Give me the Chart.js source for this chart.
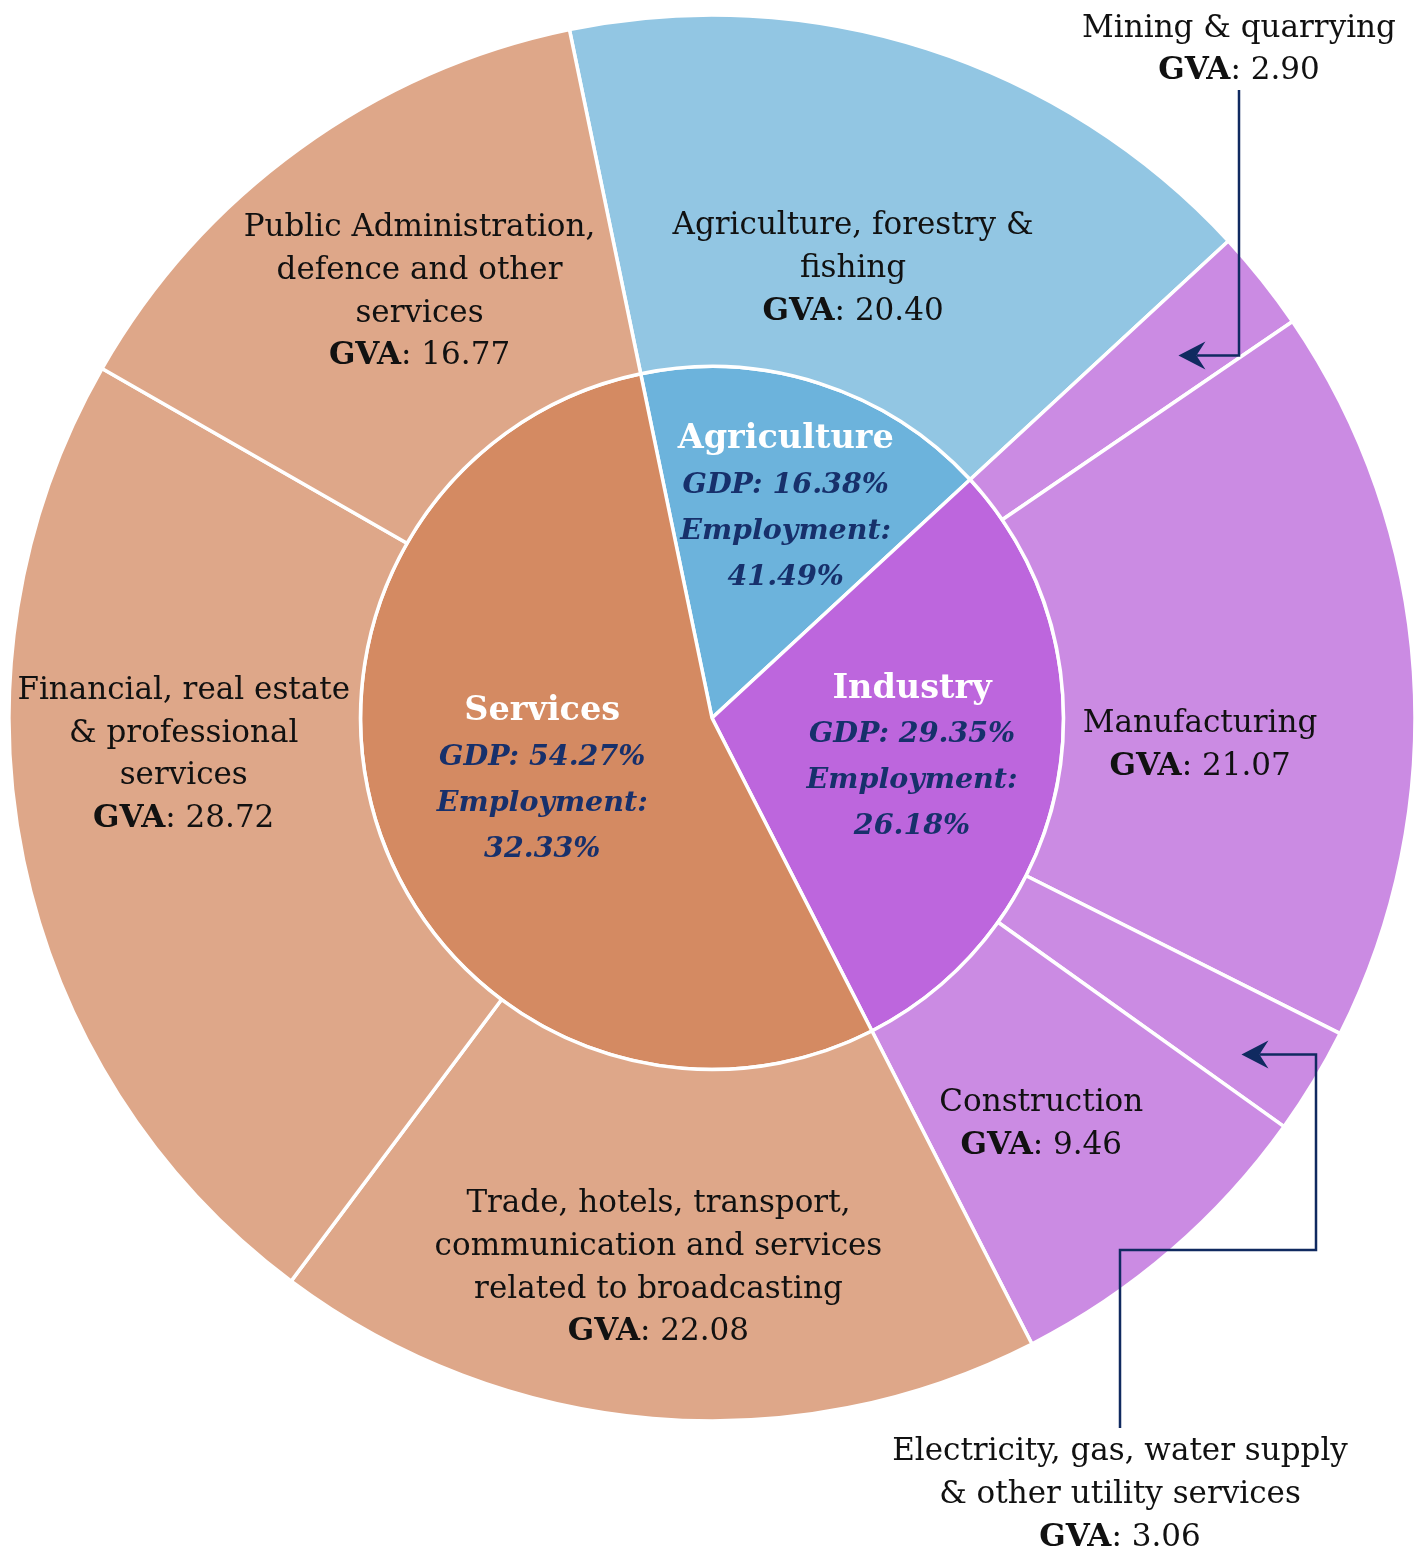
<!DOCTYPE html>
<html><head><meta charset="utf-8">
<script src="https://cdn.jsdelivr.net/npm/chart.js@4"></script>
<style>html,body{margin:0;padding:0;background:#fff;}canvas{display:block;}</style>
</head><body>
<canvas id="c" width="1423" height="1553"></canvas>
<script>
// ---------------- DATA ----------------
const sectors = ['Agriculture', 'Industry', 'Services'];
const sectorGDP = [16.38, 29.35, 54.27];
const sectorEmployment = [41.49, 26.18, 32.33];

const subSectors = [
  'Agriculture, forestry &\nfishing',
  'Mining & quarrying',
  'Manufacturing',
  'Electricity, gas, water supply\n& other utility services',
  'Construction',
  'Trade, hotels, transport,\ncommunication and services\nrelated to broadcasting',
  'Financial, real estate\n& professional\nservices',
  'Public Administration,\ndefence and other\nservices'
];
const subSectorSector = [0, 1, 1, 1, 1, 2, 2, 2];
const subSectorGVA = [20.40, 2.90, 21.07, 3.06, 9.46, 22.08, 28.72, 16.77];

// ---------------- STYLE ----------------
const sectorColors = ['#6cb3dc', '#bd66dd', '#d48a62'];
const subSectorColors = ['#92c6e3', '#cb8be3', '#cb8be3', '#cb8be3', '#cb8be3', '#dea789', '#dea789', '#dea789'];
const SERIF = '"DejaVu Serif", "Liberation Serif", serif';
const FONT_OUTER = '31px ' + SERIF;
const FONT_OUTER_B = 'bold 31px ' + SERIF;
const FONT_TITLE = 'bold 33.5px ' + SERIF;
const FONT_STAT = 'italic bold 28.5px ' + SERIF;
const TEXT = '#111111';
const NAVY = '#17306b';
const LINE_NAVY = '#102a60';

// outer-ring share: each sub-sector's slice of its sector, proportional to GVA
const sectorGVATotal = sectors.map((_, s) =>
  subSectorGVA.reduce((a, v, i) => a + (subSectorSector[i] === s ? v : 0), 0));
const subSectorShare = subSectorGVA.map((v, i) =>
  v / sectorGVATotal[subSectorSector[i]] * sectorGDP[subSectorSector[i]]);

// label nudges relative to arc centre points (layout only)
const outerLabelNudge = [
  {dx: -20, dy: 53}, null, {dx: -38, dy: 63}, null, {dx: -15, dy: 7},
  {dx: -9, dy: 25}, {dx: -12, dy: -70}, {dx: 17, dy: 1}
];
const innerLabelNudge = [{dx: 20, dy: -42}, {dx: 27, dy: 9}, {dx: -4, dy: 4}];
const callouts = [
  {index: 1, tip: {dx: 54, dy: -34}, label: {x: 1239, y: 50},
   route: (t) => [[t.x, t.y], [1239, t.y], [1239, 90]]},
  {index: 3, tip: {dx: 78, dy: 64}, label: {x: 1120, y: 1495},
   route: (t) => [[t.x, t.y], [1316, t.y], [1316, 1250], [1120, 1250], [1120, 1428]]}
];

function drawBlock(ctx, lines, cx, cy, lh) {
  const n = lines.length;
  ctx.textBaseline = 'middle';
  ctx.textAlign = 'left';
  lines.forEach((segs, i) => {
    const y = cy + (i - (n - 1) / 2) * lh;
    let w = 0;
    segs.forEach(s => { ctx.font = s.font; s.w = ctx.measureText(s.text).width; w += s.w; });
    let x = cx - w / 2;
    segs.forEach(s => { ctx.font = s.font; ctx.fillStyle = s.color; ctx.fillText(s.text, x, y); x += s.w; });
  });
}
function outerLines(i) {
  const lines = subSectors[i].split('\n').map(t => [{text: t, font: FONT_OUTER, color: TEXT}]);
  lines.push([{text: 'GVA', font: FONT_OUTER_B, color: TEXT},
              {text: ': ' + subSectorGVA[i].toFixed(2), font: FONT_OUTER, color: TEXT}]);
  return lines;
}
function arrowLeft(ctx, x, y) {
  ctx.beginPath();
  ctx.moveTo(x, y);
  ctx.lineTo(x + 27, y - 14);
  ctx.lineTo(x + 18, y);
  ctx.lineTo(x + 27, y + 14);
  ctx.closePath();
  ctx.fill();
}

const labelPlugin = {
  id: 'labels',
  afterDatasetsDraw(chart) {
    const ctx = chart.ctx;
    ctx.save();
    const outer = chart.getDatasetMeta(0).data;
    const inner = chart.getDatasetMeta(1).data;
    outer.forEach((arc, i) => {
      const nud = outerLabelNudge[i];
      if (!nud) return;
      const p = arc.getCenterPoint();
      drawBlock(ctx, outerLines(i), p.x + nud.dx, p.y + nud.dy, 42.7);
    });
    inner.forEach((arc, i) => {
      const p = arc.getCenterPoint();
      const nud = innerLabelNudge[i];
      drawBlock(ctx, [
        [{text: sectors[i], font: FONT_TITLE, color: '#ffffff'}],
        [{text: 'GDP: ' + sectorGDP[i].toFixed(2) + '%', font: FONT_STAT, color: NAVY}],
        [{text: 'Employment:', font: FONT_STAT, color: NAVY}],
        [{text: sectorEmployment[i].toFixed(2) + '%', font: FONT_STAT, color: NAVY}]
      ], p.x + nud.dx, p.y + nud.dy, 46);
    });
    callouts.forEach(c => {
      const p = outer[c.index].getCenterPoint();
      const tip = {x: p.x + c.tip.dx, y: p.y + c.tip.dy};
      const pts = c.route(tip);
      ctx.strokeStyle = LINE_NAVY;
      ctx.fillStyle = LINE_NAVY;
      ctx.lineWidth = 2.5;
      ctx.beginPath();
      ctx.moveTo(pts[0][0] + 18, pts[0][1]);
      for (let k = 1; k < pts.length; k++) ctx.lineTo(pts[k][0], pts[k][1]);
      ctx.stroke();
      arrowLeft(ctx, tip.x, tip.y);
      drawBlock(ctx, outerLines(c.index), c.label.x, c.label.y, 42.7);
    });
    ctx.restore();
  }
};

new Chart(document.getElementById('c'), {
  type: 'doughnut',
  data: {
    labels: subSectors,
    datasets: [
      {data: subSectorShare, backgroundColor: subSectorColors, borderColor: '#ffffff', borderWidth: 3.5, hoverOffset: 0},
      {data: sectorGDP, backgroundColor: sectorColors, borderColor: '#ffffff', borderWidth: 3.5, hoverOffset: 0}
    ]
  },
  options: {
    responsive: false,
    devicePixelRatio: 1,
    animation: false,
    events: [],
    cutout: 0,
    radius: 703,
    rotation: -11.7,
    layout: {padding: {left: 1, right: 0, top: 0, bottom: 117}},
    plugins: {legend: {display: false}, tooltip: {enabled: false}}
  },
  plugins: [labelPlugin]
});
</script>
</body></html>
